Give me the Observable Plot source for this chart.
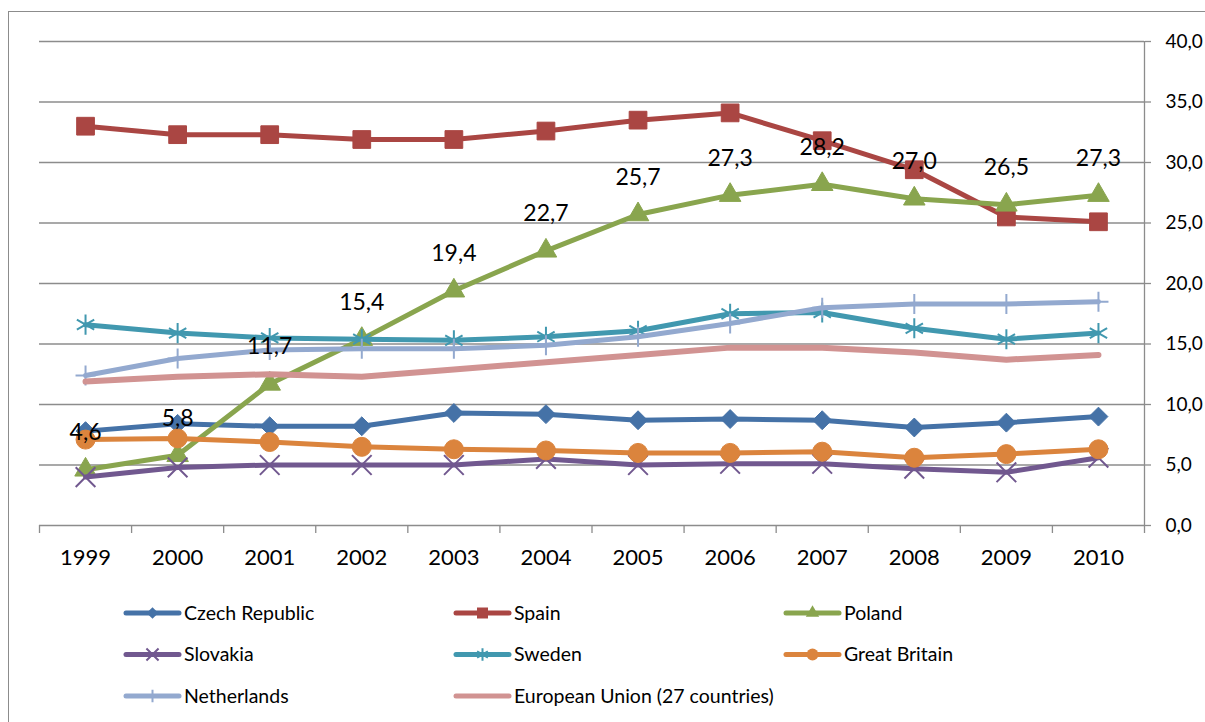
<!DOCTYPE html>
<html>
<head>
<meta charset="utf-8">
<script src="https://cdn.jsdelivr.net/npm/d3@7"></script>
<script src="https://cdn.jsdelivr.net/npm/@observablehq/plot@0.6"></script>
<style>
  html, body { margin: 0; padding: 0; background: #fff; overflow: hidden; }
  body { width: 1205px; height: 722px; position: relative; font-family: Lato, "Open Sans", sans-serif; }
  #chart { position: absolute; left: 0; top: 0; }
  #legend { position: absolute; left: 0; top: 590px; }
  #frame { position: absolute; left: 8px; top: 11px; width: 1400px; height: 900px;
           border-left: 1.3px solid #8c8c8c; border-top: 1.3px solid #8c8c8c; pointer-events: none; }
</style>
</head>
<body>
<div id="chart"></div>
<div id="legend"></div>
<div id="frame"></div>
<script>
// ---- data ----
const years = [1999, 2000, 2001, 2002, 2003, 2004, 2005, 2006, 2007, 2008, 2009, 2010];
const czechRepublic = [7.8, 8.4, 8.2, 8.2, 9.3, 9.2, 8.7, 8.8, 8.7, 8.1, 8.5, 9.0];
const spain         = [33.0, 32.3, 32.3, 31.9, 31.9, 32.6, 33.5, 34.1, 31.8, 29.4, 25.5, 25.1];
const poland        = [4.6, 5.8, 11.7, 15.4, 19.4, 22.7, 25.7, 27.3, 28.2, 27.0, 26.5, 27.3];
const slovakia      = [4.0, 4.8, 5.0, 5.0, 5.0, 5.5, 5.0, 5.1, 5.1, 4.7, 4.4, 5.6];
const sweden        = [16.6, 15.9, 15.5, 15.4, 15.3, 15.6, 16.1, 17.5, 17.6, 16.3, 15.4, 15.9];
const greatBritain  = [7.1, 7.2, 6.9, 6.5, 6.3, 6.2, 6.0, 6.0, 6.1, 5.6, 5.9, 6.3];
const netherlands   = [12.4, 13.8, 14.5, 14.6, 14.6, 14.9, 15.6, 16.7, 18.0, 18.3, 18.3, 18.5];
const europeanUnion = [11.9, 12.3, 12.5, 12.3, 12.9, 13.5, 14.1, 14.7, 14.7, 14.3, 13.7, 14.1];

const seriesNames = ["Czech Republic", "Spain", "Poland", "Slovakia", "Sweden", "Great Britain", "Netherlands", "European Union (27 countries)"];
const seriesValues = [czechRepublic, spain, poland, slovakia, sweden, greatBritain, netherlands, europeanUnion];
const seriesColors = ["#4572A7", "#AA4643", "#89A54E", "#71588F", "#4198AF", "#DB843D", "#93A9CF", "#D19392"];
const seriesSymbols = ["diamond2", "square", "triangle", "times", "asterisk", "circle", "plus", null];
const yTicks = [0, 5, 10, 15, 20, 25, 30, 35, 40];
const labelledSeries = "Poland";

// ---- styling ----
const symbolStyle = {
  diamond2: {r: 8.5, filled: true},
  square:   {r: 10,  filled: true},
  triangle: {r: 8,   filled: true},
  circle:   {r: 9.5, filled: true},
  times:    {r: 9,   filled: false},
  asterisk: {r: 9.5, filled: false},
  plus:     {r: 6.5, filled: false}
};
const fmt = d => d.toFixed(1).replace(".", ",");
const grid = "#8c8c8c";

const rows = seriesNames.flatMap((name, i) =>
  years.map((year, j) => ({series: name, year, value: seriesValues[i][j]})));

const boundaries = [...years.map(y => y - 0.5), years[years.length - 1] + 0.5];

const marks = [
  Plot.ruleY(yTicks, {stroke: grid, strokeWidth: 1.3}),
  Plot.ruleX([boundaries[boundaries.length - 1]], {stroke: grid, strokeWidth: 1.3}),
  Plot.axisX({ticks: boundaries, tickSize: 8, tickFormat: () => "", stroke: grid, strokeWidth: 1.3, label: null}),
  Plot.axisX({ticks: years, tickSize: 0, tickPadding: 24, tickFormat: d => String(d), fontSize: 22, fill: "#000", label: null}),
  Plot.axisY({anchor: "right", ticks: yTicks, tickSize: 6, tickPadding: 15, tickFormat: fmt, fontSize: 19,
              stroke: grid, strokeWidth: 1.3, fill: "#000", label: null})
];

seriesNames.forEach((name, i) => {
  const data = rows.filter(d => d.series === name);
  const color = seriesColors[i];
  const sym = seriesSymbols[i];
  marks.push(Plot.line(data, {x: "year", y: "value", stroke: color, strokeWidth: name.startsWith("European") ? 6 : 5, strokeLinejoin: "round"}));
  if (sym) {
    const st = symbolStyle[sym];
    marks.push(Plot.dot(data, st.filled
      ? {x: "year", y: "value", symbol: sym, r: st.r, fill: color, stroke: color, strokeWidth: 1}
      : {x: "year", y: "value", symbol: sym, r: st.r, fill: "none", stroke: color, strokeWidth: 2}));
  }
});

marks.push(Plot.text(rows.filter(d => d.series === labelledSeries), {
  x: "year", y: "value", text: d => fmt(d.value), dy: -37, fontSize: 23, fill: "#000"
}));

const chart = Plot.plot({
  width: 1205,
  height: 590,
  marginLeft: 39,
  marginRight: 61,
  marginTop: 41,
  marginBottom: 65,
  style: {fontFamily: "Lato, 'Open Sans', sans-serif", background: "transparent", overflow: "visible"},
  x: {type: "linear", domain: [boundaries[0], boundaries[boundaries.length - 1]], label: null},
  y: {domain: [0, 40], label: null},
  marks
});
document.getElementById("chart").appendChild(chart);

// ---- legend (below the plot SVG) ----
const d3Symbols = {
  diamond2: d3.symbolDiamond2, square: d3.symbolSquare, triangle: d3.symbolTriangle,
  circle: d3.symbolCircle, times: d3.symbolTimes, asterisk: d3.symbolAsterisk, plus: d3.symbolPlus
};
const leg = d3.select("#legend").append("svg")
  .attr("width", 1205).attr("height", 132)
  .style("font-family", "Lato, 'Open Sans', sans-serif");
seriesNames.forEach((name, i) => {
  const col = i % 3, row = Math.floor(i / 3);
  const x0 = 125 + col * 330, y0 = 23 + row * 41.5;
  const g = leg.append("g").attr("transform", `translate(${x0},${y0})`);
  g.append("line").attr("x1", 1).attr("x2", 54).attr("y1", 0).attr("y2", 0)
    .attr("stroke", seriesColors[i]).attr("stroke-width", 5).attr("stroke-linecap", "round");
  const sym = seriesSymbols[i];
  if (sym) {
    const st = symbolStyle[sym];
    const rr = st.r * 0.62;
    const p = g.append("path").attr("transform", "translate(27.5,0)")
      .attr("d", d3.symbol(d3Symbols[sym], Math.PI * rr * rr)());
    if (st.filled) p.attr("fill", seriesColors[i]);
    else p.attr("fill", "none").attr("stroke", seriesColors[i]).attr("stroke-width", 2);
  }
  g.append("text").attr("x", 59).attr("y", 0).attr("dy", "0.35em")
    .attr("font-size", 19.5).attr("fill", "#000").text(name);
});
</script>
</body>
</html>
